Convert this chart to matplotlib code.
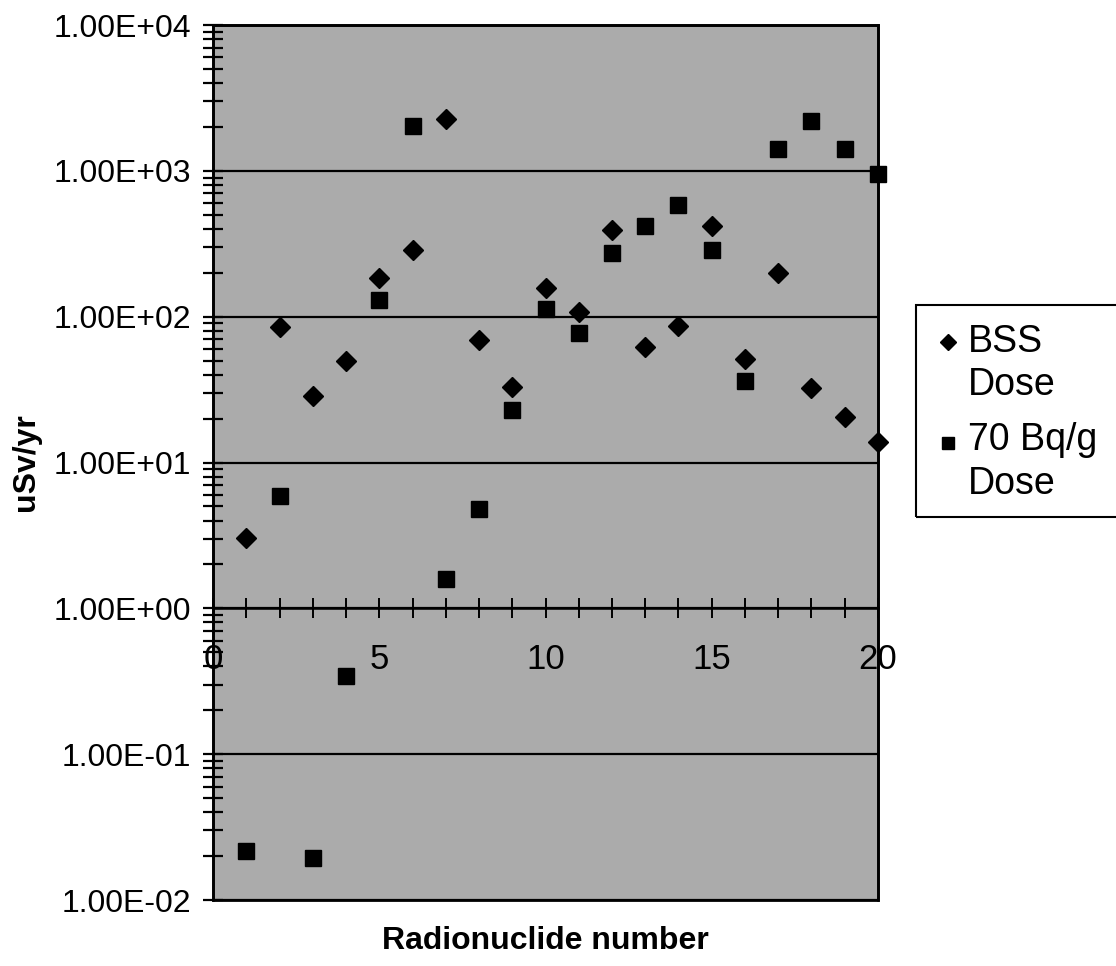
import matplotlib
matplotlib.use("Agg")
import matplotlib.pyplot as plt
from matplotlib.ticker import LogLocator, NullFormatter, MultipleLocator
from matplotlib.patches import Rectangle
from matplotlib.lines import Line2D

plt.rcParams['font.family'] = ['Liberation Sans', 'DejaVu Sans']

# Radionuclide number on x
nuclide = list(range(1, 21))

# BSS dose (uSv/yr)
bss_dose = [3.05, 85, 28.5, 50, 184, 288, 2260, 69, 33, 157,
            108, 394, 62, 86, 416, 51, 199, 32.5, 20.6, 13.8]

# 70 Bq/g dose (uSv/yr)
bq70_dose = [0.0218, 5.9, 0.0195, 0.342, 131, 2030, 1.6, 4.8, 23, 113,
             77, 275, 416, 585, 285, 36, 1410, 2200, 1410, 950]

y_ticks = [1e-2, 1e-1, 1e0, 1e1, 1e2, 1e3, 1e4]
y_tick_labels = ["1.00E-02", "1.00E-01", "1.00E+00", "1.00E+01",
                 "1.00E+02", "1.00E+03", "1.00E+04"]

fig = plt.figure(figsize=(11.16, 9.66), dpi=100)
ax = fig.add_axes([0.1909, 0.0683, 0.5958, 0.9058])

ax.set_facecolor('#ababab')
ax.set_yscale('log')
ax.set_ylim(1e-2, 1e4)
ax.set_xlim(0, 20)

# gridlines at decades
for t in y_ticks:
    ax.axhline(t, color='black', lw=1.6, zorder=1)

ax.plot(nuclide, bss_dose, linestyle='none', marker='D', markersize=10.5,
        color='black', clip_on=False, zorder=3)
ax.plot(nuclide, bq70_dose, linestyle='none', marker='s', markersize=12,
        color='black', clip_on=False, zorder=3)

# y axis
ax.yaxis.set_minor_locator(LogLocator(base=10, subs=range(2, 10), numticks=20))
ax.yaxis.set_minor_formatter(NullFormatter())
ax.set_yticks(y_ticks)
ax.set_yticklabels(y_tick_labels)
ax.tick_params(axis='y', which='both', direction='inout', length=14, width=1.6,
               labelsize=23, pad=9)

# x axis crosses at y = 1
ax.spines['bottom'].set_position(('data', 1.0))
ax.xaxis.set_major_locator(MultipleLocator(5))
ax.xaxis.set_minor_locator(MultipleLocator(1))
ax.tick_params(axis='x', which='both', direction='inout', length=14, width=1.4,
               labelsize=25, pad=18)

for s in ['left', 'bottom', 'top', 'right']:
    ax.spines[s].set_linewidth(1.8)

# frame bottom edge
ax.add_patch(Rectangle((0, 0), 1, 1, transform=ax.transAxes, fill=False,
                       lw=2, edgecolor='black', clip_on=False, zorder=2))

ax.set_ylabel("uSv/yr", fontsize=23, fontweight='bold')
ax.yaxis.set_label_coords(-0.258, 0.5)
ax.set_xlabel("Radionuclide number", fontsize=23, fontweight='bold')
ax.xaxis.set_label_coords(0.5, -0.03)

# legend drawn by hand (marker sits at first line of each label)
fig.add_artist(Rectangle((916 / 1116, 1 - 517 / 966), 0.2, 212 / 966,
                         transform=fig.transFigure, fill=False, lw=1.5,
                         edgecolor='black'))
fig.add_artist(Line2D([948 / 1116], [1 - 342 / 966], marker='D', markersize=8,
                      color='black', linestyle='none', transform=fig.transFigure))
fig.add_artist(Line2D([948 / 1116], [1 - 443 / 966], marker='s', markersize=9,
                      color='black', linestyle='none', transform=fig.transFigure))
fig.text(968 / 1116, 1 - 342 / 966, "BSS", fontsize=27, va='center', ha='left')
fig.text(968 / 1116, 1 - 385 / 966, "Dose", fontsize=27, va='center', ha='left')
fig.text(968 / 1116, 1 - 440 / 966, "70 Bq/g", fontsize=27, va='center', ha='left')
fig.text(968 / 1116, 1 - 484 / 966, "Dose", fontsize=27, va='center', ha='left')

fig.savefig("out.png", dpi=100)
plt.close(fig)
